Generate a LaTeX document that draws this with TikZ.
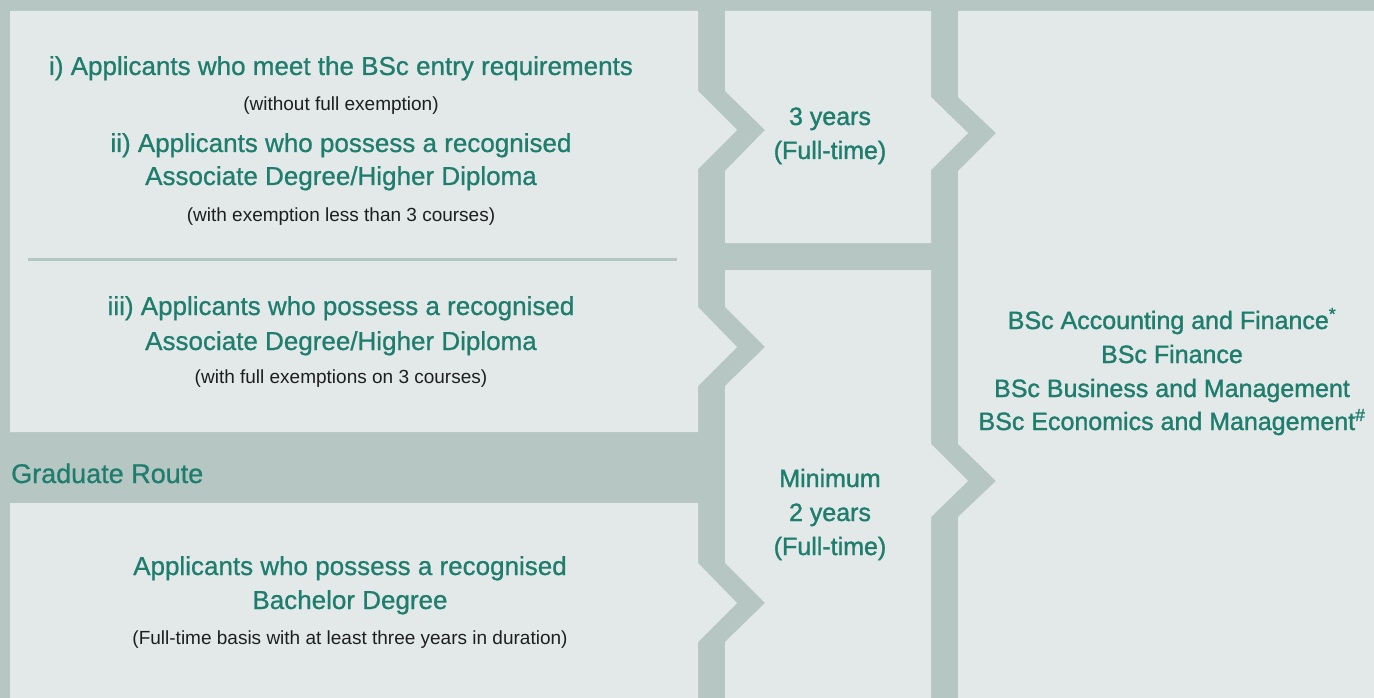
\documentclass[tikz,border=0pt]{standalone}
\usepackage{fontspec}
\setmainfont{Liberation Sans}
\newfontfamily\medfont[FakeBold=0.8]{Liberation Sans}
\newfontfamily\semifont[FakeBold=1.3]{Liberation Sans}
\definecolor{barc}{HTML}{B5C6C3}
\definecolor{panelc}{HTML}{E3E9E9}
\definecolor{greenc}{HTML}{1F7D6E}
\definecolor{textc}{HTML}{1E1E1E}
\begin{document}
\begin{tikzpicture}[x=1pt,y=-1pt,
  panel/.style={fill=panelc,draw=none},
  head/.style={anchor=base,text=greenc,inner sep=0pt,font=\medfont\fontsize{26}{30}\selectfont},
  midtext/.style={anchor=base,text=greenc,inner sep=0pt,font=\semifont\fontsize{25}{30}\selectfont},
  grad/.style={anchor=base west,text=greenc,inner sep=0pt,font=\medfont\fontsize{27}{32}\selectfont},
  sub/.style={anchor=base,text=textc,inner sep=0pt,font=\fontsize{19}{22}\selectfont},
  sepline/.style={draw=barc,line width=3pt}]
\useasboundingbox (0,0) rectangle (1374,698);
\fill[barc] (0,0) rectangle (1374,698);
% left top panel
\fill[panel] (10,11) -- (698,11) -- (698,91) -- (737,130) -- (698,169) -- (698,307) -- (737,347) -- (698,386) -- (698,432) -- (10,432) -- cycle;
% left bottom panel
\fill[panel] (10,503) -- (698,503) -- (698,563) -- (737,603) -- (698,642) -- (698,698) -- (10,698) -- cycle;
% middle top panel
\fill[panel] (725,11) -- (931,11) -- (931,97) -- (968,133) -- (931,170) -- (931,243) -- (725,243) -- (725,171) -- (765,130) -- (725,91) -- cycle;
% middle bottom panel
\fill[panel] (725,270) -- (931,270) -- (931,444) -- (968,481) -- (931,517) -- (931,698) -- (725,698) -- (725,642) -- (765,603) -- (725,563) -- (725,386) -- (765,347) -- (725,307) -- cycle;
% right panel
\fill[panel] (958,11) -- (1374,11) -- (1374,698) -- (958,698) -- (958,517) -- (996,481) -- (958,444) -- (958,171) -- (996,133) -- (958,97) -- cycle;
% separator
\coordinate (sepA) at (28,259);
\coordinate (sepB) at (677,259);
\draw[sepline] (sepA) -- (sepB);
% left texts
\node[head] (h1) at (341,75) {i) Applicants who meet the BSc entry requirements};
\node[sub] (s1) at (341,111) {(without full exemption)};
\node[head] (h2) at (341,152) {ii) Applicants who possess a recognised};
\node[head] (h3) at (341,185) {Associate Degree/Higher Diploma};
\node[sub] (s2) at (341,221) {(with exemption less than 3 courses)};
\node[head] (h4) at (341,315) {iii) Applicants who possess a recognised};
\node[head] (h5) at (341,350) {Associate Degree/Higher Diploma};
\node[sub] (s3) at (341,383) {(with full exemptions on 3 courses)};
\node[grad] (gr) at (11,483) {Graduate Route};
\node[head] (h6) at (350,575) {Applicants who possess a recognised};
\node[head] (h7) at (350,609) {Bachelor Degree};
\node[sub] (s4) at (350,644) {(Full-time basis with at least three years in duration)};
% middle texts
\node[midtext] (m1) at (830,125) {3 years};
\node[midtext] (m2) at (830,159) {(Full-time)};
\node[midtext] (m3) at (830,487) {Minimum};
\node[midtext] (m4) at (830,521) {2 years};
\node[midtext] (m5) at (830,555) {(Full-time)};
% right texts
\node[midtext] (r1) at (1172,329) {BSc Accounting and Finance\textsuperscript{*}};
\node[midtext] (r2) at (1172,363) {BSc Finance};
\node[midtext] (r3) at (1172,397) {BSc Business and Management};
\node[midtext] (r4) at (1172,430) {BSc Economics and Management\textsuperscript{\#}};
\end{tikzpicture}
\end{document}
